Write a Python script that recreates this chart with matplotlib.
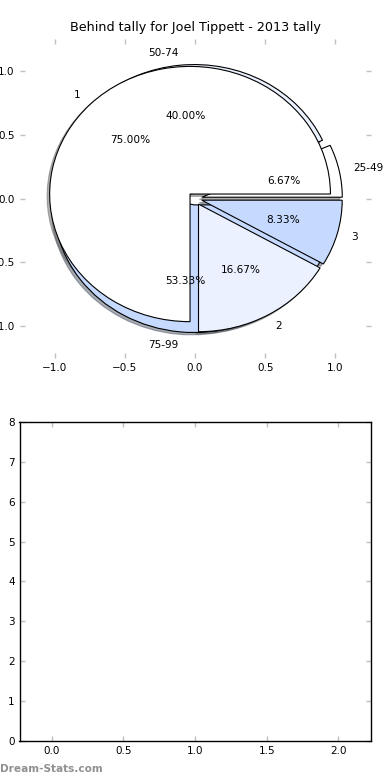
import matplotlib
matplotlib.use("Agg")
import matplotlib.pyplot as plt

title = "Behind tally for Joel Tippett - 2013 tally"
range_labels = ["25-49", "50-74", "75-99"]
range_values = [1, 6, 8]
place_labels = ["1", "2", "3"]
place_values = [9, 2, 1]
colors = ["#FFFFFF", "#EBF1FF", "#C6D9FF"]
explode = [0.05, 0.05, 0.05]
pie_ticks = [-1.0, -0.5, 0.0, 0.5, 1.0]
bar_xticks = [0.0, 0.5, 1.0, 1.5, 2.0]
bar_yticks = [0, 1, 2, 3, 4, 5, 6, 7, 8]

plt.rcParams['font.family'] = ['DejaVu Sans']
plt.rcParams['font.size'] = 7.5

fig = plt.figure(figsize=(3.9, 7.8), dpi=100)
fig.subplots_adjust(left=0.05, right=0.95, top=0.95, bottom=0.05, hspace=0.2)
ax1 = fig.add_subplot(2, 1, 1)
ax2 = fig.add_subplot(2, 1, 2)

wp = dict(edgecolor='black', linewidth=0.8)
tp = dict(fontsize=7.6)
shadow = dict(ox=-0.013, oy=-0.013, shade=0.6)
ax1.pie(range_values, labels=range_labels, colors=colors, explode=explode,
        autopct='%1.2f%%', shadow=shadow, startangle=0, frame=True,
        wedgeprops=wp, textprops=tp)
ax1.pie(place_values, labels=place_labels, colors=colors, explode=explode,
        autopct='%1.2f%%', shadow=shadow, startangle=0, frame=True,
        wedgeprops=wp, textprops=tp)
ax1.set_aspect('auto')
ax1.set_xlim(-1.25, 1.25)
ax1.set_ylim(-1.25, 1.25)
ax1.set_xticks(pie_ticks)
ax1.set_yticks(pie_ticks)
for s in ax1.spines.values():
    s.set_visible(False)
ax1.set_title(title, fontsize=9.2)

ax2.set_xlim(-0.225, 2.225)
ax2.set_ylim(0, 8)
ax2.set_xticks(bar_xticks)
ax2.set_yticks(bar_yticks)
for s in ax2.spines.values():
    s.set_color('black')
    s.set_linewidth(1.0)

for ax in (ax1, ax2):
    ax.tick_params(direction='in', length=3.5, width=1, color='#c0c0c0',
                   top=True, right=True, labelsize=7.5, labelcolor='black')

fig.text(0.0, 0.008, "Dream-Stats.com", color='#909090', fontsize=7.6,
         fontweight='bold', ha='left', va='bottom')

fig.savefig("out.png", dpi=100)
